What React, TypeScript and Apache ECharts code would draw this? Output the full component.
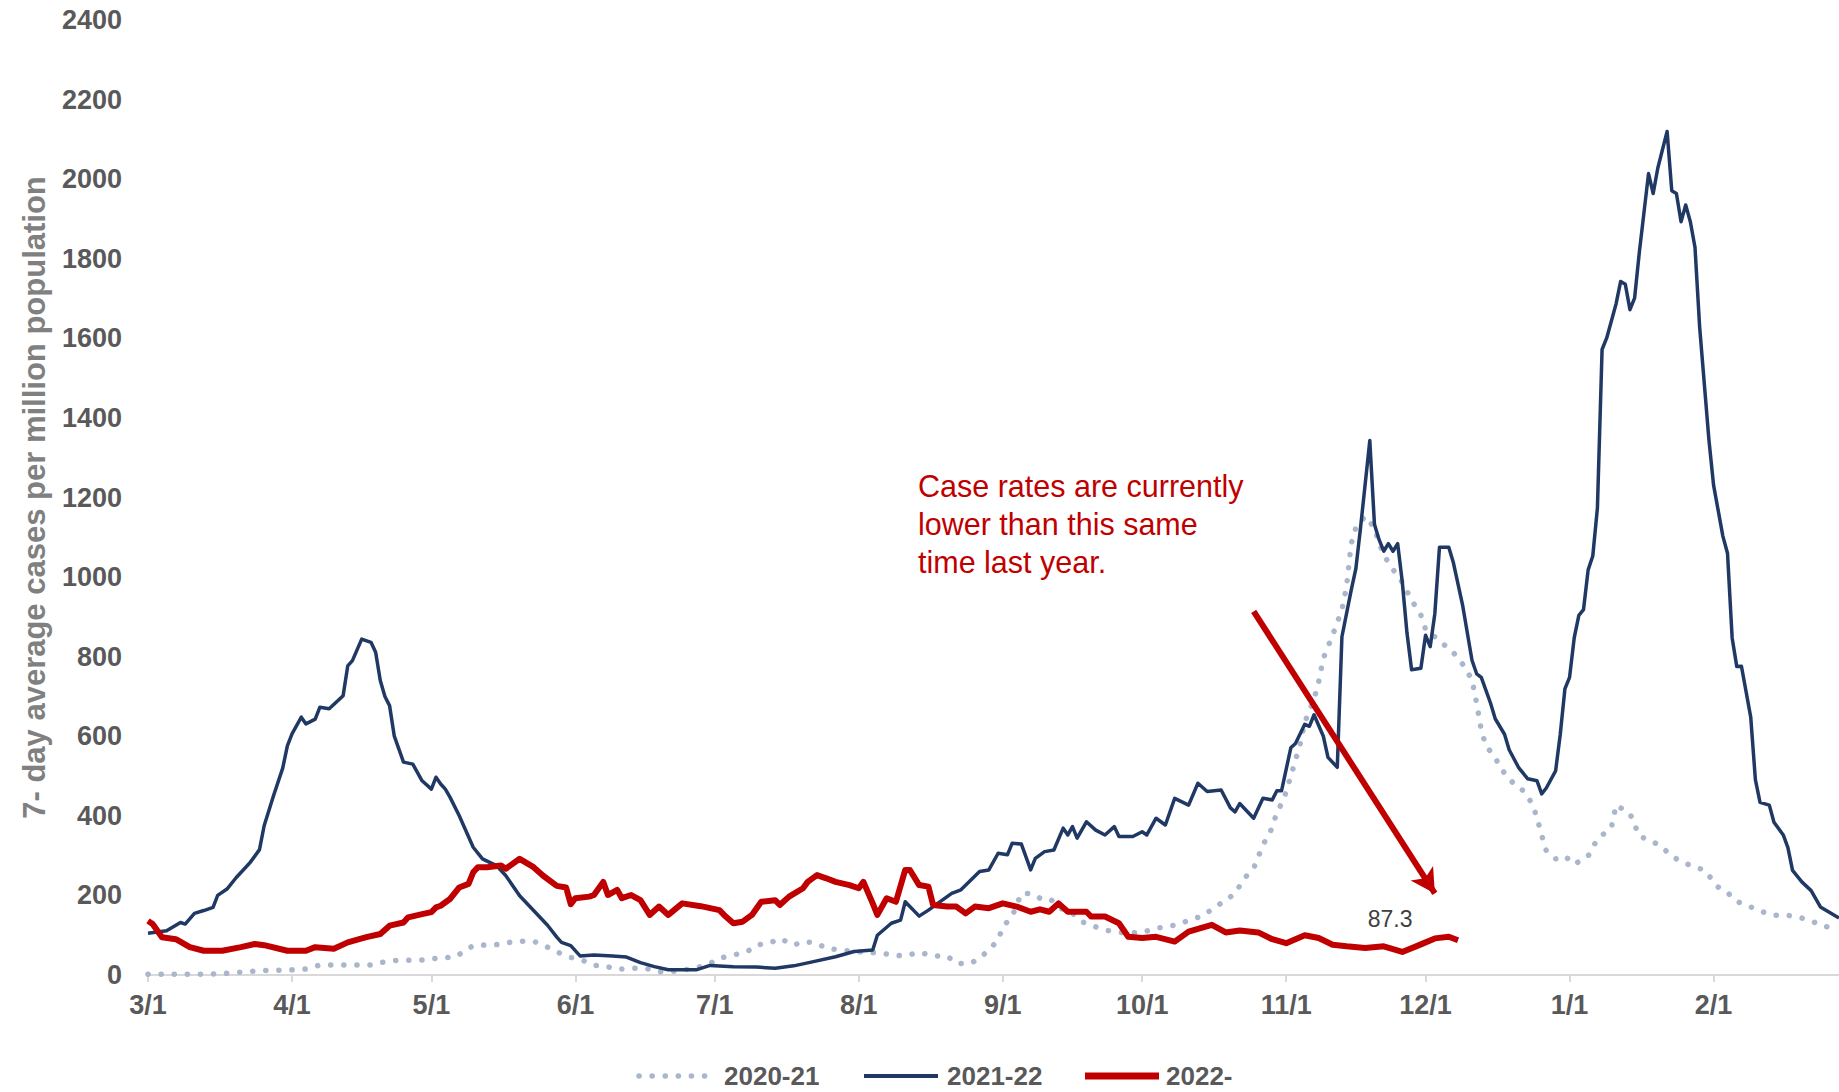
import React, { useEffect, useRef } from "react";
import * as echarts from "echarts";

// Category labels: one per day, 3/1 through 2/28
const dayLabels: string[] = Array.from({ length: 365 }, (_, i) => {
  const d = new Date(2021, 2, 1 + i);
  return `${d.getMonth() + 1}/${d.getDate()}`;
});

const yTicks = { min: 0, max: 2400, interval: 200 };
const seriesNames = ["2020-21", "2021-22", "2022-"];

// 2020-21 (dotted): day index since 3/1, value
const days2021 = [0, 13, 18, 24, 31, 34, 37, 48, 52, 60, 63, 66, 68, 70, 76, 79, 83, 86, 88, 91, 93, 96, 98, 101, 104, 107, 110, 114, 118, 121, 123, 126, 129, 131, 134, 136, 139, 141, 144, 146, 149, 152, 158, 160, 163, 166, 169, 172, 174, 177, 179, 181, 183, 184, 186, 188, 190, 192, 194, 197, 199, 201, 204, 206, 209, 211, 214, 217, 219, 222, 224, 227, 229, 232, 234, 236, 238, 240, 242, 243, 244, 245, 246, 248, 249, 251, 252, 253, 255, 257, 258, 259, 260, 262, 264, 265, 267, 270, 272, 274, 275, 277, 279, 281, 283, 285, 286, 287, 288, 290, 291, 293, 295, 296, 298, 299, 300, 301, 303, 305, 307, 310, 312, 315, 316, 319, 321, 324, 326, 328, 330, 333, 335, 338, 340, 342, 345, 348, 350, 353, 356, 358, 361, 364];
const vals2021 = [2, 2, 5, 11, 13, 15, 25, 25, 36, 38, 44, 44, 59, 74, 77, 85, 85, 70, 58, 44, 40, 24, 24, 14, 17, 17, 8, 10, 18, 29, 42, 50, 59, 75, 81, 92, 75, 84, 80, 67, 63, 59, 55, 50, 48, 57, 48, 48, 29, 29, 42, 63, 88, 121, 147, 205, 205, 193, 193, 163, 155, 134, 121, 113, 107, 105, 107, 117, 121, 127, 138, 148, 165, 188, 205, 243, 268, 327, 370, 410, 430, 460, 500, 580, 635, 693, 737, 796, 854, 918, 976, 1084, 1124, 1153, 1124, 1084, 1035, 987, 942, 904, 869, 850, 830, 810, 781, 742, 683, 615, 576, 547, 522, 493, 469, 464, 430, 395, 351, 312, 292, 299, 278, 299, 342, 370, 427, 406, 349, 335, 320, 299, 285, 271, 264, 221, 207, 185, 171, 157, 150, 150, 143, 136, 121, 121, 129];

// 2021-22 (navy)
const days2122 = [0, 2, 4, 6, 7, 8, 10, 12, 14, 15, 17, 19, 21, 22, 24, 25, 27, 29, 30, 31, 33, 34, 36, 37, 39, 42, 43, 44, 46, 48, 49, 50, 51, 52, 53, 55, 57, 59, 61, 62, 63, 64, 65, 67, 70, 72, 75, 77, 80, 83, 86, 88, 89, 91, 93, 96, 100, 103, 106, 109, 112, 118, 121, 126, 131, 135, 139, 143, 148, 152, 156, 157, 160, 162, 163, 166, 168, 170, 173, 175, 179, 181, 183, 185, 186, 188, 190, 191, 193, 195, 197, 198, 199, 200, 202, 204, 206, 208, 209, 212, 214, 215, 217, 219, 221, 224, 226, 228, 231, 233, 234, 235, 238, 240, 242, 243, 244, 246, 247, 249, 250, 251, 253, 254, 256, 257, 259, 260, 261, 263, 264, 265, 266, 267, 268, 269, 270, 271, 272, 274, 275, 276, 277, 278, 280, 281, 283, 285, 286, 287, 289, 290, 292, 293, 295, 297, 299, 300, 301, 303, 304, 305, 306, 307, 308, 309, 310, 311, 312, 313, 314, 316, 317, 318, 319, 320, 321, 322, 323, 324, 325, 327, 328, 329, 330, 331, 332, 333, 334, 336, 337, 339, 340, 341, 342, 343, 345, 346, 347, 349, 350, 352, 353, 354, 356, 358, 360, 362, 364];
const vals2122 = [105, 108, 111, 125, 132, 128, 155, 162, 170, 200, 216, 245, 270, 283, 315, 375, 450, 520, 576, 606, 648, 631, 643, 673, 669, 702, 777, 790, 844, 836, 811, 740, 700, 677, 601, 535, 530, 488, 467, 497, 480, 467, 447, 400, 321, 292, 275, 250, 199, 162, 125, 95, 82, 74, 48, 50, 48, 45, 31, 21, 13, 13, 24, 21, 20, 17, 23, 33, 46, 59, 63, 100, 130, 138, 184, 148, 163, 180, 205, 214, 260, 264, 306, 302, 331, 329, 264, 293, 310, 314, 369, 352, 373, 344, 385, 364, 352, 373, 348, 348, 360, 352, 394, 377, 444, 427, 482, 461, 465, 420, 410, 431, 394, 444, 440, 463, 463, 571, 582, 630, 625, 654, 600, 547, 522, 850, 967, 1021, 1123, 1343, 1133, 1094, 1065, 1084, 1065, 1084, 987, 860, 767, 771, 854, 825, 908, 1075, 1075, 1036, 928, 791, 757, 748, 683, 644, 605, 566, 522, 493, 488, 455, 470, 513, 605, 719, 748, 847, 904, 918, 1018, 1053, 1174, 1572, 1601, 1686, 1743, 1736, 1672, 1701, 1814, 1914, 2014, 1964, 2028, 2120, 1971, 1964, 1893, 1935, 1893, 1829, 1629, 1345, 1231, 1103, 1060, 847, 775, 776, 648, 491, 434, 427, 384, 352, 320, 263, 234, 212, 171, 157, 143];

// 2022- (red)
const days2223 = [0, 1, 3, 6, 9, 12, 16, 20, 23, 25, 30, 34, 36, 40, 43, 47, 50, 52, 55, 56, 59, 61, 62, 63, 65, 67, 69, 70, 71, 73, 76, 77, 80, 83, 85, 88, 90, 91, 92, 95, 96, 98, 99, 101, 102, 104, 106, 108, 110, 112, 115, 119, 123, 124, 126, 128, 130, 132, 135, 136, 138, 141, 142, 144, 146, 148, 151, 153, 154, 156, 157, 159, 161, 163, 164, 166, 168, 169, 172, 174, 176, 178, 181, 184, 187, 190, 192, 194, 196, 198, 202, 203, 206, 209, 211, 214, 217, 221, 224, 229, 232, 235, 239, 242, 245, 249, 252, 255, 258, 262, 266, 270, 274, 277, 280, 282];
const vals2223 = [136, 128, 95, 90, 70, 61, 61, 70, 78, 75, 61, 61, 70, 66, 82, 95, 103, 124, 132, 145, 153, 158, 170, 174, 191, 220, 229, 258, 271, 271, 275, 267, 292, 271, 250, 224, 220, 178, 193, 197, 201, 234, 201, 214, 193, 201, 188, 151, 172, 151, 180, 173, 163, 151, 130, 134, 151, 184, 188, 176, 197, 218, 234, 251, 243, 234, 226, 218, 234, 180, 151, 193, 184, 264, 264, 226, 222, 176, 172, 172, 155, 172, 168, 180, 172, 159, 165, 159, 180, 159, 159, 147, 147, 130, 96, 93, 96, 84, 109, 126, 107, 112, 107, 90, 80, 100, 93, 76, 72, 68, 72, 58, 77, 92, 96, 87.3];

// Annotation arrow, in data coordinates (day, value)
const arrowFrom = [238, 914];
const arrowTo = [277, 205];

const zip = (d: number[], v: number[]) => d.map((x, i) => [x, v[i]]);

const FONT = "'Liberation Sans', Arial, sans-serif";
const GRAY = "#595959";
const C_DOT = "#A9B6CC";
const C_NAVY = "#203864";
const C_RED = "#C00000";

export default function App() {
  const ref = useRef<HTMLDivElement>(null);
  useEffect(() => {
    if (!ref.current) return;
    const chart = echarts.init(ref.current, null, { renderer: "svg" });
    const lastDay = days2223[days2223.length - 1];
    const lastVal = vals2223[vals2223.length - 1];
    const isMonthStart = (_i: number, v: string) => v.split("/")[1] === "1";
    const legendY = 1076;
    const legendItems = [
      { name: seriesNames[0], x: 639, textX: 724, style: { stroke: C_DOT, lineWidth: 5.5, lineDash: [0.1, 13], lineCap: "round" } },
      { name: seriesNames[1], x: 864, textX: 947, style: { stroke: C_NAVY, lineWidth: 4 } },
      { name: seriesNames[2], x: 1085, textX: 1166, style: { stroke: C_RED, lineWidth: 7 } },
    ];
    const legendGraphics: any[] = [];
    legendItems.forEach((it) => {
      legendGraphics.push({
        type: "line",
        silent: true,
        shape: { x1: it.x, y1: legendY, x2: it.x + 74, y2: legendY },
        style: it.style,
      });
      legendGraphics.push({
        type: "text",
        silent: true,
        x: it.textX,
        y: legendY,
        style: { text: it.name, fill: GRAY, font: `bold 26px ${FONT}`, verticalAlign: "middle", align: "left" },
      });
    });
    chart.setOption({
      animation: false,
      backgroundColor: "#ffffff",
      textStyle: { fontFamily: FONT },
      grid: { left: 148, right: 0, top: 20, bottom: 117, containLabel: false },
      xAxis: {
        type: "category",
        data: dayLabels,
        boundaryGap: false,
        axisLine: { show: true, lineStyle: { color: "#D9D9D9", width: 2 } },
        axisTick: { show: true, interval: isMonthStart, length: 7, lineStyle: { color: "#D9D9D9", width: 2 } },
        axisLabel: {
          interval: isMonthStart,
          margin: 16,
          fontFamily: FONT,
          fontSize: 27,
          fontWeight: "bold",
          color: GRAY,
        },
        splitLine: { show: false },
      },
      yAxis: {
        type: "value",
        min: yTicks.min,
        max: yTicks.max,
        interval: yTicks.interval,
        axisLine: { show: false },
        axisTick: { show: false },
        splitLine: { show: false },
        axisLabel: {
          margin: 26,
          fontFamily: FONT,
          fontSize: 27,
          fontWeight: "bold",
          color: GRAY,
          formatter: (v: number) => String(v),
        },
        name: "7- day average cases per million population",
        nameLocation: "middle",
        nameGap: 98,
        nameRotate: 90,
        nameTextStyle: { fontFamily: FONT, fontSize: 31, fontWeight: "bold", color: "#808080" },
      },
      series: [
        {
          name: seriesNames[0],
          type: "line",
          data: zip(days2021, vals2021),
          showSymbol: false,
          symbol: "none",
          lineStyle: { color: C_DOT, width: 5.5, type: [0.1, 13], cap: "round" },
          itemStyle: { color: C_DOT },
          z: 2,
        },
        {
          name: seriesNames[1],
          type: "line",
          data: zip(days2122, vals2122),
          showSymbol: false,
          symbol: "none",
          lineStyle: { color: C_NAVY, width: 3.5, join: "round" },
          itemStyle: { color: C_NAVY },
          z: 3,
        },
        {
          name: seriesNames[2],
          type: "line",
          data: zip(days2223, vals2223),
          showSymbol: false,
          symbol: "none",
          lineStyle: { color: C_RED, width: 6, join: "round" },
          itemStyle: { color: C_RED },
          z: 4,
          markLine: {
            silent: true,
            animation: false,
            symbol: ["none", "arrow"],
            symbolSize: [20, 24],
            label: { show: false },
            lineStyle: { color: C_RED, width: 6, type: "solid" },
            data: [[{ coord: arrowFrom }, { coord: arrowTo }]],
          },
          markPoint: {
            silent: true,
            animation: false,
            symbol: "circle",
            symbolSize: 1,
            itemStyle: { color: "rgba(0,0,0,0)" },
            label: {
              show: true,
              position: "top",
              offset: [-68, -4],
              formatter: () => String(lastVal),
              fontFamily: FONT,
              fontSize: 23,
              color: "#404040",
            },
            data: [{ coord: [lastDay, lastVal] }],
          },
        },
      ],
      graphic: [
        {
          type: "text",
          left: 918,
          top: 467,
          style: {
            text: "Case rates are currently\nlower than this same\ntime last year.",
            fill: C_RED,
            font: `30.5px ${FONT}`,
            lineHeight: 38,
          },
        },
        ...legendGraphics,
      ],
    });
    return () => chart.dispose();
  }, []);
  return (
    <div
      ref={ref}
      style={{ position: "fixed", left: 0, top: 0, width: 1839, height: 1092, background: "#fff" }}
    />
  );
}
